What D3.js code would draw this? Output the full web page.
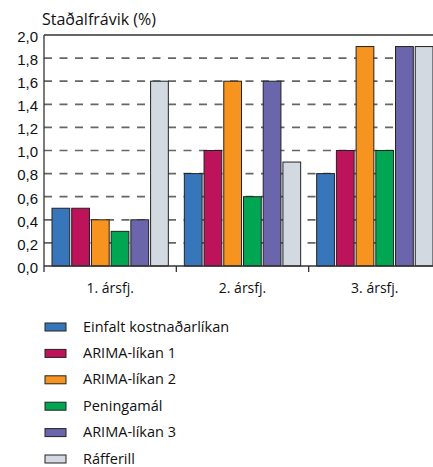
<!DOCTYPE html>
<html>
<head>
<meta charset="utf-8">
<script src="https://cdn.jsdelivr.net/npm/d3@7"></script>
<style>
  html, body { margin: 0; padding: 0; background: #fff; }
  svg { display: block; font-family: "Open Sans", "DejaVu Sans", sans-serif; }
</style>
</head>
<body>
<svg id="chart" width="433" height="467"></svg>
<script>
// Quarters on the x axis
const categories = ["1. ársfj.", "2. ársfj.", "3. ársfj."];

// Forecast models and their standard deviations (%) per quarter
const seriesNames = ["Einfalt kostnaðarlíkan", "ARIMA-líkan 1", "ARIMA-líkan 2", "Peningamál", "ARIMA-líkan 3", "Ráfferill"];
const einfalt    = [0.5, 0.8, 0.8];
const arima1     = [0.5, 1.0, 1.0];
const arima2     = [0.4, 1.6, 1.9];
const peningamal = [0.3, 0.6, 1.0];
const arima3     = [0.4, 1.6, 1.9];
const rafferill  = [1.6, 0.9, 1.9];
const seriesValues = [einfalt, arima1, arima2, peningamal, arima3, rafferill];

const colors = ["#3876bb", "#bc135b", "#f7941f", "#00a651", "#6b66ac", "#d3d9e0"];

const yTicks = [0, 0.2, 0.4, 0.6, 0.8, 1.0, 1.2, 1.4, 1.6, 1.8, 2.0];
const yTitle = "Staðalfrávik (%)";

const svg = d3.select("#chart");
const plotLeft = 44, plotTop = 35, plotBottom = 266, plotRight = 441;

const x = d3.scaleBand().domain(categories).range([plotLeft, plotRight]).padding(0);
const xs = d3.scaleBand().domain(seriesNames)
  .range([8, x.bandwidth() - 8]).paddingInner(0.1).paddingOuter(0);
const y = d3.scaleLinear().domain([0, 2]).range([plotBottom, plotTop]);

const fmt = v => d3.format(".1f")(v).replace(".", ",");

// dashed gridlines
svg.append("g").selectAll("line")
  .data(yTicks.filter(t => t > 0 && t < 2))
  .join("line")
  .attr("x1", plotLeft).attr("x2", 433)
  .attr("y1", d => y(d)).attr("y2", d => y(d))
  .attr("stroke", "#666").attr("stroke-width", 1.7)
  .attr("stroke-dasharray", "8,7.5");

// top frame line
svg.append("line")
  .attr("x1", plotLeft).attr("x2", 433).attr("y1", y(2)).attr("y2", y(2))
  .attr("stroke", "#333").attr("stroke-width", 1.4);

// bars
const groups = svg.append("g").selectAll("g")
  .data(categories)
  .join("g")
  .attr("transform", d => `translate(${x(d)},0)`);

groups.selectAll("rect")
  .data((c, ci) => seriesNames.map((s, si) => ({ s, si, v: seriesValues[si][ci] })))
  .join("rect")
  .attr("x", d => xs(d.s))
  .attr("width", xs.bandwidth())
  .attr("y", d => y(d.v))
  .attr("height", d => y(0) - y(d.v))
  .attr("fill", d => colors[d.si])
  .attr("stroke", "#222").attr("stroke-width", 1);

// y axis
const yAxis = d3.axisLeft(y).tickValues(yTicks).tickFormat(fmt).tickSize(0).tickPadding(6);
const yg = svg.append("g").attr("transform", `translate(${plotLeft},0)`).call(yAxis);
yg.select(".domain").remove();
yg.selectAll("text").attr("font-size", 15).attr("fill", "#111").attr("dy", "0.42em");
svg.append("line")
  .attr("x1", plotLeft).attr("x2", plotLeft).attr("y1", plotTop).attr("y2", plotBottom + 6)
  .attr("stroke", "#333").attr("stroke-width", 1.3);

// x axis baseline, category separators and labels
svg.append("line")
  .attr("x1", plotLeft).attr("x2", 433).attr("y1", plotBottom).attr("y2", plotBottom)
  .attr("stroke", "#333").attr("stroke-width", 1.5);
svg.append("g").selectAll("line")
  .data(categories.slice(1))
  .join("line")
  .attr("x1", d => x(d)).attr("x2", d => x(d))
  .attr("y1", plotBottom).attr("y2", plotBottom + 6)
  .attr("stroke", "#333").attr("stroke-width", 1.3);
svg.append("g").selectAll("text")
  .data(categories)
  .join("text")
  .attr("x", d => x(d) + x.bandwidth() / 2)
  .attr("y", 293)
  .attr("text-anchor", "middle")
  .attr("font-size", 14).attr("fill", "#111")
  .text(d => d);

// y title
svg.append("text")
  .attr("x", 42).attr("y", 25)
  .attr("font-size", 16).attr("fill", "#111")
  .text(yTitle);

// legend
const legend = svg.append("g").selectAll("g")
  .data(seriesNames)
  .join("g")
  .attr("transform", (d, i) => `translate(45,${327 + i * 26.4})`);
legend.append("rect")
  .attr("x", 0).attr("y", -4).attr("width", 21).attr("height", 8)
  .attr("fill", (d, i) => colors[i]).attr("stroke", "#222").attr("stroke-width", 1);
legend.append("text")
  .attr("x", 38).attr("y", 4.5)
  .attr("font-size", 14.5).attr("fill", "#111")
  .text(d => d);
</script>
</body>
</html>
